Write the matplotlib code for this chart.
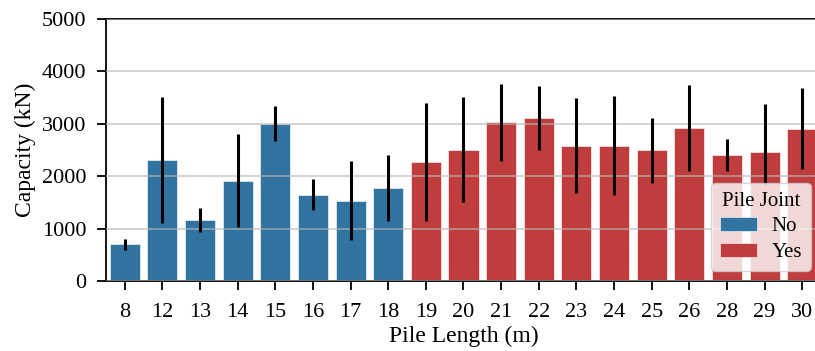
import matplotlib.pyplot as plt
import numpy as np

# data
lengths = ["8", "12", "13", "14", "15", "16", "17", "18", "19", "20",
           "21", "22", "23", "24", "25", "26", "28", "29", "30"]
joint = ["No"] * 8 + ["Yes"] * 11
capacity = [700, 2310, 1160, 1915, 2990, 1650, 1530, 1770, 2265, 2505,
            3030, 3115, 2585, 2585, 2495, 2920, 2405, 2470, 2905]
err_low = [600, 1100, 930, 1040, 2665, 1360, 780, 1140, 1145, 1500,
           2295, 2505, 1685, 1640, 1870, 2095, 2100, 1840, 2135]
err_high = [800, 3520, 1400, 2800, 3340, 1950, 2285, 2405, 3390, 3520,
            3750, 3730, 3495, 3525, 3110, 3735, 2715, 3375, 3680]

colors = {"No": "#3274a1", "Yes": "#c03d3e"}

plt.rcParams['font.family'] = ['Liberation Serif', 'DejaVu Serif']
plt.rcParams['font.size'] = 16

fig = plt.figure(figsize=(8.15, 3.51), dpi=100)
ax = fig.add_axes([0.130, 0.1994, 0.8774, 0.7465])

x = np.arange(len(lengths))
cap = np.array(capacity)
yerr = np.array([cap - np.array(err_low), np.array(err_high) - cap])

for key in ["No", "Yes"]:
    idx = [i for i, j in enumerate(joint) if j == key]
    ax.bar(x[idx], cap[idx], width=0.8, color=colors[key],
           edgecolor="white", linewidth=0.4, label=key, zorder=1)
ax.errorbar(x, cap, yerr=yerr, fmt="none", ecolor="black", elinewidth=2.2,
            capsize=0, zorder=3)

ax.set_xlim(-0.5, len(lengths) - 0.5)
ax.set_ylim(0, 5000)
ax.set_xticks(x)
ax.set_xticklabels(lengths)
ax.set_yticks([0, 1000, 2000, 3000, 4000, 5000])
ax.yaxis.grid(True, color="#b8b8b8", alpha=0.7, linewidth=1.2, zorder=2)
ax.set_axisbelow(False)
ax.spines["right"].set_visible(False)
for s in ["left", "bottom", "top"]:
    ax.spines[s].set_linewidth(1.3)
ax.tick_params(direction="out", length=6.5, width=1.3, labelsize=16)
ax.tick_params(axis="x", pad=9)
ax.tick_params(axis="y", pad=7.5)

ax.set_xlabel("Pile Length (m)", fontsize=17, labelpad=3)
ax.set_ylabel("Capacity (kN)", fontsize=17, labelpad=4)
ax.legend(title="Pile Joint", loc="lower right", fontsize=15,
          title_fontsize=15, labelspacing=0.3, handlelength=1.8,
          handletextpad=0.7)

fig.savefig("out.png", dpi=100)
